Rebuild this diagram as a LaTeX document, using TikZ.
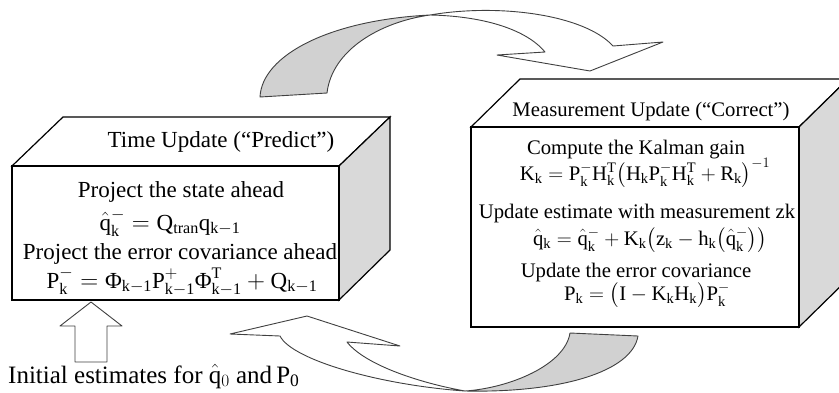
\documentclass[tikz,border=0pt]{standalone}
\usepackage{amsmath}
\usepackage{fontspec}
\setmainfont{Liberation Serif}
\newcommand\Ph{\text{Φ}}
\newcommand\qh{\hat{\mathrm{q}}}
\definecolor{sidegray}{gray}{0.85}
\definecolor{ribgray}{gray}{0.82}
\definecolor{ribline}{gray}{0.25}
\begin{document}
\begin{tikzpicture}[x=1pt,y=-1pt,
  boxline/.style={draw=black,line width=1.2pt,line join=miter},
  sideface/.style={boxline,fill=sidegray},
  ribbon/.style={draw=ribline,line width=0.9pt,line join=round},
  ltxt/.style={inner sep=0pt,anchor=base,font=\fontsize{23}{27}\selectfont},
  rtxt/.style={inner sep=0pt,anchor=base,font=\fontsize{20.7}{24}\selectfont}]
\useasboundingbox (0,0) rectangle (839,392);
\clip (0,0) rectangle (839,392);

% ---- top ribbon arrow ----
\fill[ribgray] (260,97) .. controls (262,55) and (330,20) .. (430,15)
   .. controls (380,22) and (332,50) .. (327,93) -- cycle;
\draw[ribbon] (260,97) .. controls (262,55) and (330,20) .. (430,15)
   .. controls (380,22) and (332,50) .. (327,93) -- cycle;
\draw[ribbon,fill=white] (430,15) .. controls (500,3) and (585,15) .. (613,46)
   -- (663,42) -- (590,71) -- (497,55) -- (545,52)
   .. controls (525,28) and (480,16) .. (430,15) -- cycle;

% ---- bottom ribbon arrow ----
\draw[ribbon,fill=white] (280,336) .. controls (292,360) and (380,385) .. (465,391)
   .. controls (420,383) and (365,365) .. (347,342)
   -- (400,346) -- (307,316) -- (230,334) -- cycle;
\draw[ribbon,fill=ribgray] (465,391) .. controls (510,388) and (565,365) .. (570,333)
   -- (638,336) .. controls (632,372) and (560,393) .. (465,391) -- cycle;

% ---- left box ----
\draw[boxline,fill=white] (12,166) -- (63,117) -- (390,117) -- (339,166) -- cycle;
\draw[sideface] (339,166) -- (390,117) -- (390,250) -- (339,300) -- cycle;
\draw[boxline,fill=white] (12,166) rectangle (339,300);

% ---- right box ----
\draw[boxline,fill=white] (471,127) -- (520,79) -- (848,79) -- (799,127) -- cycle;
\draw[sideface] (799,127) -- (848,79) -- (848,279) -- (799,327) -- cycle;
\draw[boxline,fill=white] (471,127) rectangle (799,327);

% ---- left texts ----
\node[ltxt] (ltitle) at (221,147) {Time Update (“Predict”)};
\node[ltxt] (l1) at (181,197) {Project the state ahead};
\node[ltxt] (l2) at (170,230) {$\qh^{-}_{\mathrm{k}}=\mathrm{Q_{tran}q_{k-1}}$};
\node[ltxt] (l3) at (180,259) {Project the error covariance ahead};
\node[ltxt] (l4) at (182,288) {$\mathrm{P^{-}_{k}}=\Ph_{\mathrm{k-1}}\mathrm{P^{+}_{k-1}}\Ph^{\mathrm{T}}_{\mathrm{k-1}}+\mathrm{Q_{k-1}}$};

% ---- right texts ----
\node[rtxt] (rtitle) at (651,116) {Measurement Update (“Correct”)};
\node[rtxt] (r1) at (636,154) {Compute the Kalman gain};
\node[rtxt] (r2) at (645,180) {$\mathrm{K_k}=\mathrm{P^{-}_{k}H^{T}_{k}}\bigl(\mathrm{H_kP^{-}_{k}H^{T}_{k}}+\mathrm{R_k}\bigr)^{-1}$};
\node[rtxt] (r3) at (637,218) {Update estimate with measurement zk};
\node[rtxt] (r4) at (650,245) {$\qh_{\mathrm{k}}=\qh^{-}_{\mathrm{k}}+\mathrm{K_k}\bigl(\mathrm{z_k}-\mathrm{h_k}\bigl(\qh^{-}_{\mathrm{k}}\bigr)\bigr)$};
\node[rtxt] (r5) at (636,277) {Update the error covariance};
\node[rtxt] (r6) at (647,300) {$\mathrm{P_k}=\bigl(\mathrm{I}-\mathrm{K_kH_k}\bigr)\mathrm{P^{-}_{k}}$};

% ---- initial estimate arrow ----
\draw[ribbon,fill=white] (75,362) -- (75,326) -- (60,326) -- (91,302) -- (122,326)
   -- (107,326) -- (107,362) -- cycle;
\node[ltxt,anchor=base west,font=\fontsize{25}{29}\selectfont] (init) at (8,383) {Initial estimates for $\qh_{0}$ and\,$\mathrm{P_0}$};
\end{tikzpicture}
\end{document}
